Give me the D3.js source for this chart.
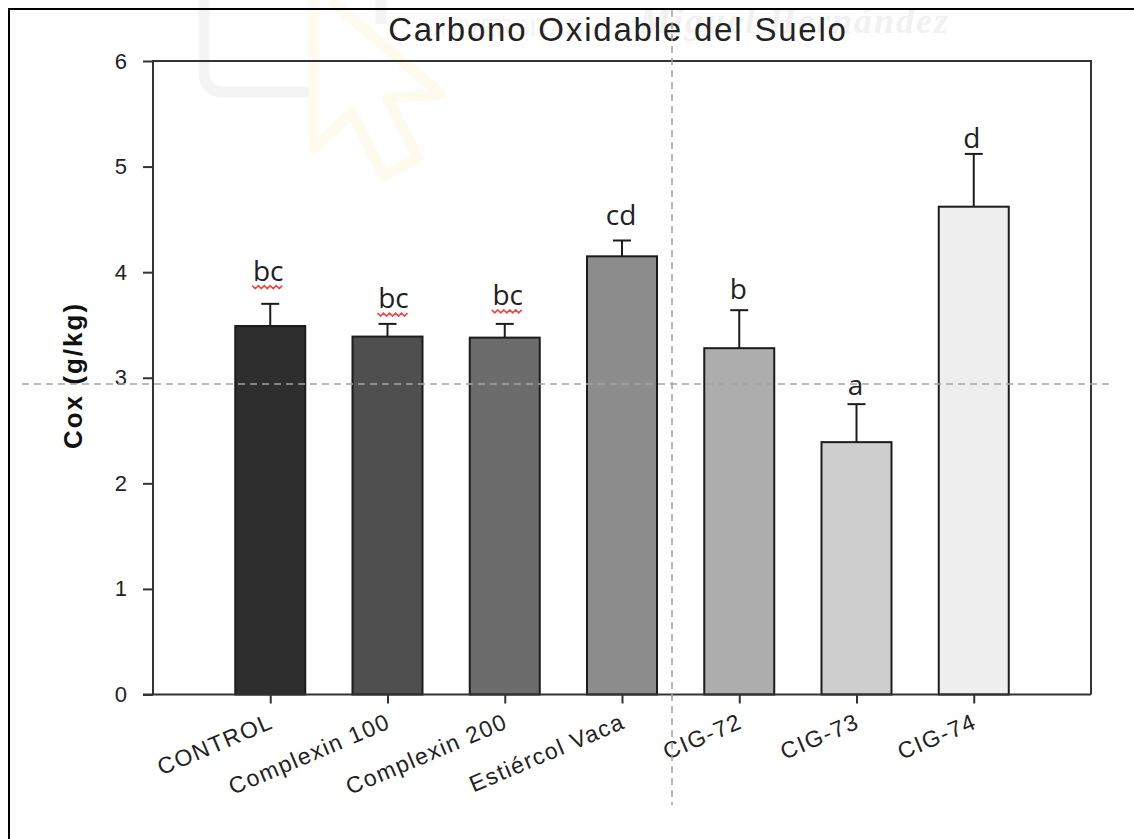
<!DOCTYPE html>
<html>
<head>
<meta charset="utf-8">
<script src="https://cdnjs.cloudflare.com/ajax/libs/d3/7.8.5/d3.min.js"></script>
<style>
  html, body { margin: 0; padding: 0; background: #fff; }
  svg { display: block; }
  text { font-family: "Liberation Sans", Arial, sans-serif; }
</style>
</head>
<body>
<div id="chart"></div>
<script>
// Data
const categories = ['CONTROL', 'Complexin 100', 'Complexin 200', 'Estiércol Vaca', 'CIG-72', 'CIG-73', 'CIG-74']
const means = [3.49, 3.39, 3.38, 4.15, 3.28, 2.39, 4.62]
const errorTops = [3.70, 3.51, 3.51, 4.30, 3.64, 2.75, 5.12]
const groupLetters = ['bc', 'bc', 'bc', 'cd', 'b', 'a', 'd']
const letterLevels = [3.92, 3.66, 3.69, 4.45, 3.75, 2.84, 5.18]
const barGreys = ['#2e2e2e', '#4f4f4f', '#6c6c6c', '#8c8c8c', '#adadad', '#cecece', '#eeeeee']
const yTicks = [0, 1, 2, 3, 4, 5, 6]

// Our canvas
const width = 1134, height = 839
const plotLeft = 153, plotRight = 1091, plotTop = 61, plotBottom = 694.5
const barWidth = 70, capWidth = 18
const axisColor = '#333'

const svg = d3.select('#chart').append('svg')
  .attr('width', width)
  .attr('height', height)

const xscale = d3.scalePoint().domain(categories).range([plotLeft, plotRight]).padding(1)
const yscale = d3.scaleLinear().domain([0, 6]).range([plotBottom, plotTop])

// Faint watermark behind the chart
const mark = svg.append('g').attr('fill', 'none')
mark.append('path')
  .attr('d', 'M204,0 V72 Q204,92 224,92 H310 M381,0 V24')
  .attr('stroke', '#f4f4f4').attr('stroke-width', 11)
mark.append('path')
  .attr('d', 'M314,0 V148 L352,113 L384,176 L418,158 L388,98 L441,94 L330,0')
  .attr('stroke', '#fefaee').attr('stroke-width', 11).attr('stroke-linejoin', 'round')
svg.append('text')
  .attr('x', 423).attr('y', 36)
  .style('font-size', '24px').attr('fill', '#f3f3f3')
  .text('UNIVERSITAS')
svg.append('text')
  .attr('x', 950).attr('y', 33).attr('text-anchor', 'end')
  .style('font-family', '"Liberation Serif", serif')
  .style('font-style', 'italic').style('font-weight', 'bold')
  .style('font-size', '36px').style('letter-spacing', '2px')
  .attr('fill', '#f1f1f1')
  .text('Miguel Hernández')

// Outer frame: only left and top edges are visible
svg.append('path')
  .attr('d', `M9,${height} V9 H${width}`)
  .attr('fill', 'none').attr('stroke', '#000').attr('stroke-width', 2)

// Plot box
svg.append('path')
  .attr('d', `M${plotLeft},${plotBottom} V${plotTop} H${plotRight} V${plotBottom}`)
  .attr('fill', 'none').attr('stroke', axisColor).attr('stroke-width', 2)

// Bars
svg.selectAll('rect.bar')
  .data(categories)
  .enter()
  .append('rect')
  .attr('class', 'bar')
  .attr('x', d => xscale(d) - barWidth / 2)
  .attr('y', (d, i) => yscale(means[i]))
  .attr('width', barWidth)
  .attr('height', (d, i) => yscale(0) - yscale(means[i]))
  .attr('fill', (d, i) => barGreys[i])
  .attr('stroke', '#1c1c1c')
  .attr('stroke-width', 2)

// Error bars, upper half only
const errors = svg.selectAll('g.err')
  .data(categories)
  .enter()
  .append('g')
  .attr('class', 'err')
  .attr('stroke', '#1c1c1c')
  .attr('stroke-width', 2)
errors.append('line')
  .attr('x1', d => xscale(d)).attr('x2', d => xscale(d))
  .attr('y1', (d, i) => yscale(means[i])).attr('y2', (d, i) => yscale(errorTops[i]))
errors.append('line')
  .attr('x1', d => xscale(d) - capWidth / 2).attr('x2', d => xscale(d) + capWidth / 2)
  .attr('y1', (d, i) => yscale(errorTops[i])).attr('y2', (d, i) => yscale(errorTops[i]))

// Axes
const leftAxis = d3.axisLeft(yscale).tickValues(yTicks).tickFormat(d3.format('d'))
  .tickSize(10).tickSizeOuter(0).tickPadding(16)
const gLeft = svg.append('g').attr('transform', `translate(${plotLeft},0)`).call(leftAxis)
gLeft.select('.domain').remove()
gLeft.selectAll('line').attr('stroke', axisColor).attr('stroke-width', 2)
gLeft.selectAll('text').style('font-size', '22px').attr('fill', '#222')

const bottomAxis = d3.axisBottom(xscale).tickSize(9).tickSizeOuter(0)
const gBottom = svg.append('g').attr('transform', `translate(0,${plotBottom})`).call(bottomAxis)
gBottom.select('.domain').remove()
gBottom.selectAll('line').attr('stroke', axisColor).attr('stroke-width', 2)
gBottom.selectAll('text')
  .style('font-size', '23px')
  .style('letter-spacing', '1.5px')
  .attr('fill', '#222')
  .attr('text-anchor', 'end')
  .attr('dy', null)
  .attr('y', 0)
  .attr('transform', 'translate(4,33) rotate(-23)')

svg.append('line')
  .attr('x1', plotLeft - 10).attr('x2', plotRight)
  .attr('y1', plotBottom).attr('y2', plotBottom)
  .attr('stroke', axisColor).attr('stroke-width', 2)

// Titles
svg.append('text')
  .attr('x', 618).attr('y', 41).attr('text-anchor', 'middle')
  .style('font-size', '33px').style('letter-spacing', '1.8px').attr('fill', '#222')
  .text('Carbono Oxidable del Suelo')
svg.append('text')
  .attr('transform', 'translate(82,375.5) rotate(-90)')
  .attr('text-anchor', 'middle')
  .style('font-size', '26px').style('font-weight', 'bold').style('letter-spacing', '2px').attr('fill', '#111')
  .text('Cox (g/kg)')

// Significance letters, the "bc" ones carry a red spell-check squiggle
const letterShift = [-2, 6, 3, -1, -1, -1, -2]
const letters = svg.selectAll('g.letter')
  .data(categories)
  .enter()
  .append('g')
  .attr('class', 'letter')
  .attr('transform', (d, i) => `translate(${xscale(d) + letterShift[i]},${yscale(letterLevels[i])})`)
letters.append('text')
  .attr('text-anchor', 'middle')
  .style('font-family', '"Open Sans", sans-serif')
  .style('font-size', '28px')
  .attr('fill', '#222')
  .text((d, i) => groupLetters[i])
const squiggle = d3.line().x(d => d).y((d, i) => 5 + (i % 2) * 3)
letters.filter((d, i) => groupLetters[i] === 'bc')
  .append('path')
  .attr('d', squiggle(d3.range(-16, 17, 3)))
  .attr('fill', 'none')
  .attr('stroke', '#f04848')
  .attr('stroke-width', 1.6)

// Dashed guide lines across the picture
svg.append('line')
  .attr('x1', 22).attr('x2', 1113).attr('y1', 384).attr('y2', 384)
  .attr('stroke', '#a4a4a4').attr('stroke-width', 1.5).attr('stroke-dasharray', '7 5')
svg.append('line')
  .attr('x1', 672).attr('x2', 672).attr('y1', 10).attr('y2', 805)
  .attr('stroke', '#a4a4a4').attr('stroke-width', 1.5).attr('stroke-dasharray', '7 5')
</script>
</body>
</html>
